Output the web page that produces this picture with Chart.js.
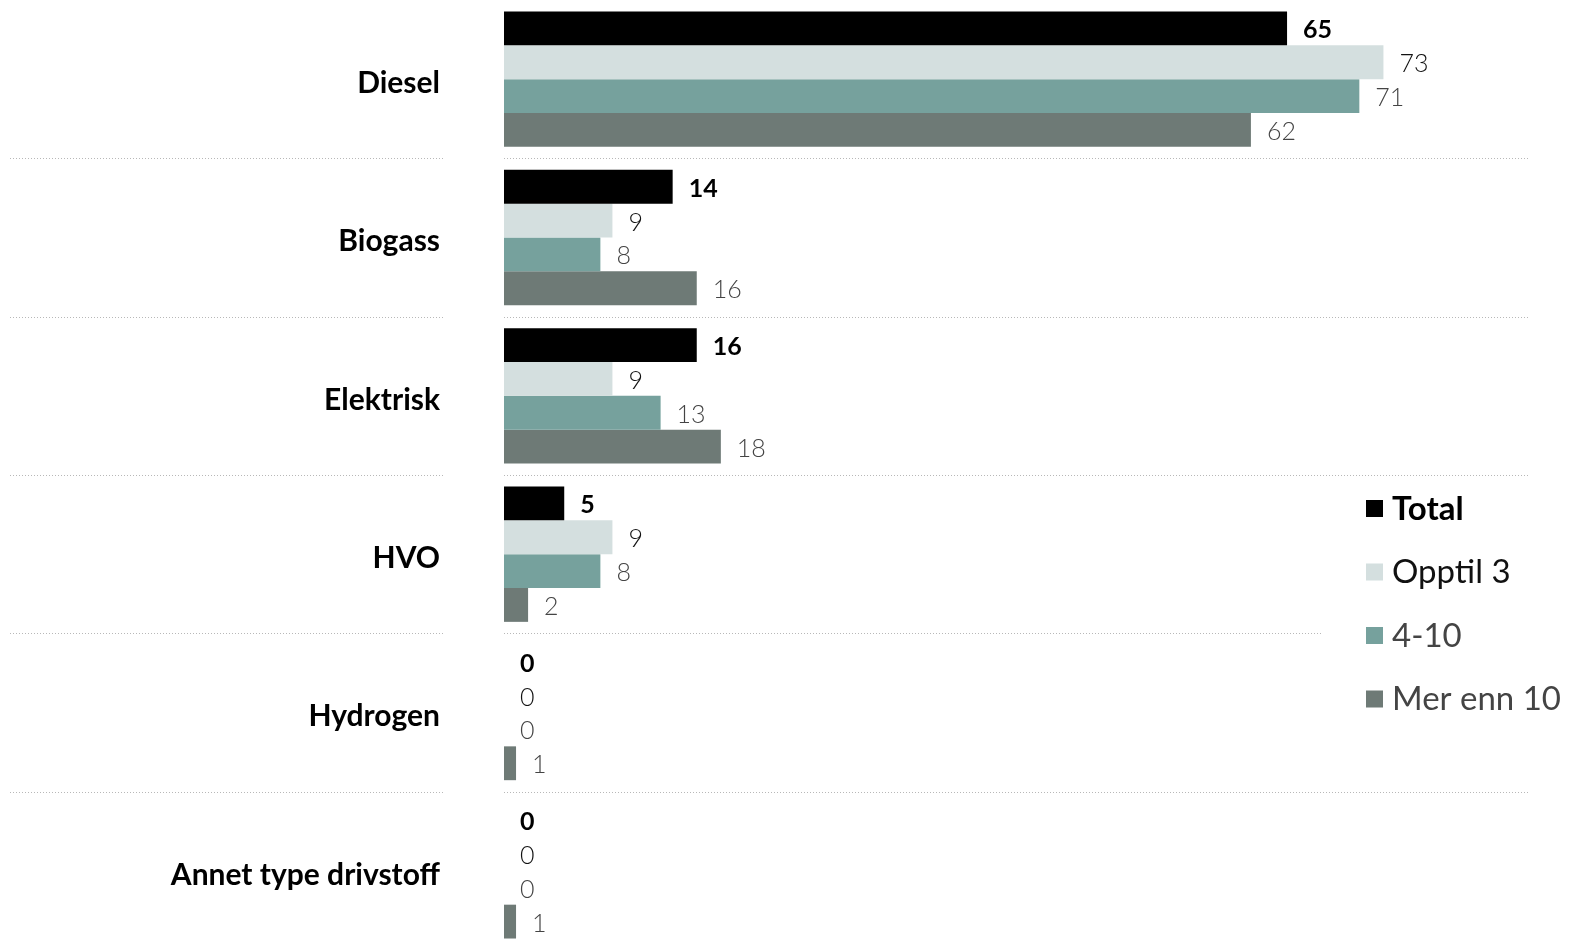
<!DOCTYPE html>
<html>
<head>
<meta charset="utf-8">
<script src="https://cdn.jsdelivr.net/npm/chart.js@4"></script>
<style>
  html, body { margin: 0; padding: 0; background: #fff; }
  #wrap { width: 1571px; height: 950px; position: relative; }
</style>
</head>
<body>
<div id="wrap"><canvas id="chart"></canvas></div>
<script>
const categories = ["Diesel", "Biogass", "Elektrisk", "HVO", "Hydrogen", "Annet type drivstoff"];
const seriesNames = ["Total", "Opptil 3", "4-10", "Mer enn 10"];
const total = [65, 14, 16, 5, 0, 0];
const opptil3 = [73, 9, 9, 9, 0, 0];
const fireTilTi = [71, 8, 13, 8, 0, 0];
const merEnn10 = [62, 16, 18, 2, 1, 1];

const barColors = ["#000000", "#d4dfdf", "#76a19d", "#6e7a76"];
const labelColors = ["#000000", "#111111", "#444444", "#444444"];
const FONT = "Lato, 'Open Sans', sans-serif";

// dotted separators between the categories
const separators = {
  id: "separators",
  beforeDatasetsDraw(chart) {
    const ctx = chart.ctx;
    const y = chart.scales.y;
    const area = chart.chartArea;
    ctx.save();
    ctx.strokeStyle = "#b8b8b8";
    ctx.lineWidth = 1;
    ctx.setLineDash([1, 2]);
    for (let i = 0; i < categories.length - 1; i++) {
      const yy = Math.round((y.getPixelForValue(i) + y.getPixelForValue(i + 1)) / 2) + 0.5;
      ctx.beginPath();
      ctx.moveTo(10, yy);
      ctx.lineTo(443, yy);
      ctx.moveTo(area.left, yy);
      ctx.lineTo(1528, yy);
      ctx.stroke();
    }
    ctx.restore();
  }
};

// value labels at the end of each bar
const valueLabels = {
  id: "valueLabels",
  afterDatasetsDraw(chart) {
    const ctx = chart.ctx;
    ctx.save();
    ctx.textBaseline = "middle";
    ctx.textAlign = "left";
    chart.data.datasets.forEach((ds, di) => {
      const meta = chart.getDatasetMeta(di);
      ctx.font = (di === 0 ? "bold " : "300 ") + "25px " + FONT;
      ctx.fillStyle = labelColors[di];
      meta.data.forEach((bar, i) => {
        ctx.fillText(String(ds.data[i]), bar.x + 16, bar.y + 2);
      });
    });
    ctx.restore();
  }
};

// legend drawn on a white box at the right
const sideLegend = {
  id: "sideLegend",
  afterDraw(chart) {
    const ctx = chart.ctx;
    ctx.save();
    ctx.fillStyle = "#fff";
    ctx.fillRect(1322, 482, 249, 250);
    ctx.textBaseline = "middle";
    ctx.textAlign = "left";
    seriesNames.forEach((name, i) => {
      const cy = 509 + i * 63.5;
      ctx.fillStyle = barColors[i];
      ctx.fillRect(1366, cy - 9, 17, 17);
      ctx.font = (i === 0 ? "bold " : "normal ") + "33px " + FONT;
      ctx.fillStyle = labelColors[i];
      ctx.fillText(name, 1392, cy);
    });
    ctx.restore();
  }
};

const datasets = [total, opptil3, fireTilTi, merEnn10].map((d, i) => ({
  label: seriesNames[i],
  data: d,
  backgroundColor: barColors[i],
  borderWidth: 0,
  categoryPercentage: 0.855,
  barPercentage: 1
}));

new Chart(document.getElementById("chart"), {
  type: "bar",
  data: { labels: categories, datasets: datasets },
  options: {
    indexAxis: "y",
    responsive: true,
    maintainAspectRatio: false,
    animation: false,
    layout: { padding: { top: 0, bottom: 0, left: 0, right: 43 } },
    plugins: { legend: { display: false }, tooltip: { enabled: false } },
    scales: {
      x: { display: false, min: 0, max: 85 },
      y: {
        grid: { display: false, drawTicks: false },
        border: { display: false },
        ticks: {
          padding: 64,
          labelOffset: 4,
          color: "#000",
          font: { family: FONT, size: 30, weight: "bold" }
        },
        afterFit(scale) {
          scale.width = 504;
          scale.paddingTop = 0;
          scale.paddingBottom = 0;
        }
      }
    }
  },
  plugins: [separators, valueLabels, sideLegend]
});
</script>
</body>
</html>
